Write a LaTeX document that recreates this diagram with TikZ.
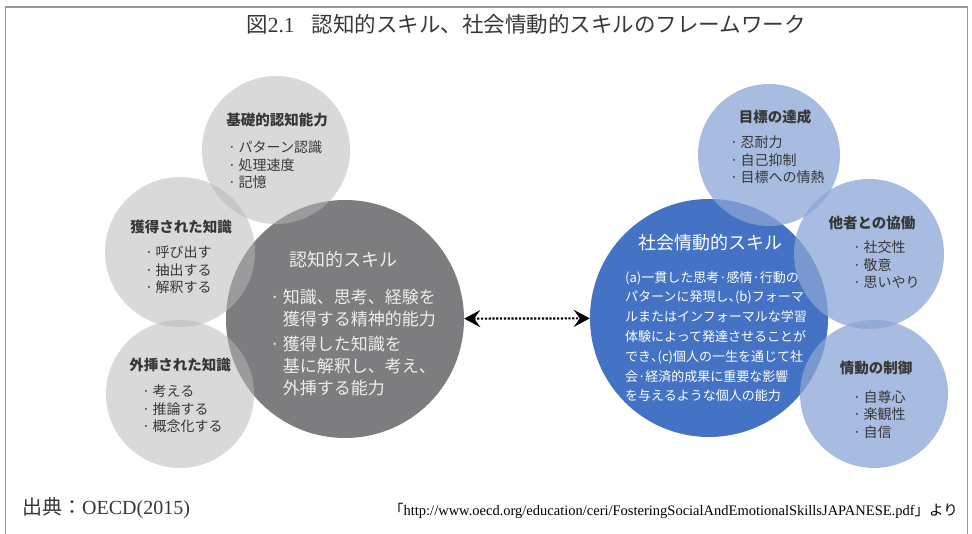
\documentclass[tikz,border=0pt]{standalone}
\usepackage{fontspec}
\setmainfont{Liberation Serif}
\newfontfamily\jp{Noto Sans CJK JP}
\usetikzlibrary{arrows.meta,positioning}
\usepackage{xcolor}

\definecolor{cogdark}{RGB}{125,125,128}
\definecolor{coglight}{RGB}{183,183,185}
\definecolor{emoblue}{RGB}{68,114,196}
\definecolor{emolight}{RGB}{139,164,213}
\definecolor{framegray}{RGB}{150,150,150}
\definecolor{textdark}{RGB}{55,55,55}

\newcommand{\dotitem}{\makebox[0.75em][l]{·}}
\newcommand{\halfcomma}{\makebox[0.5em][l]{、}}

\begin{document}
\begin{tikzpicture}[x=1pt, y=-1pt,
    cogbig/.style={circle, fill=cogdark, minimum size=238pt, inner sep=0pt},
    coglittle/.style={circle, fill=coglight, fill opacity=0.52, minimum size=#1, inner sep=0pt},
    emobig/.style={circle, fill=emoblue, minimum size=238pt, inner sep=0pt},
    emolittle/.style={circle, fill=emolight, fill opacity=0.75, minimum size=#1, inner sep=0pt},
    heading/.style={font=\jp\bfseries\fontsize{14.5}{18}\selectfont, text=textdark, inner sep=0pt},
    items/.style={font=\jp\fontsize{14}{17.5}\selectfont, text=textdark, align=left, anchor=north west, inner sep=0pt},
    bighead/.style={font=\jp\fontsize{18}{22}\selectfont, inner sep=0pt},
    arrowline/.style={{Stealth[length=16pt,width=17pt,inset=6pt]}-{Stealth[length=16pt,width=17pt,inset=6pt]}, line width=2.2pt, dash pattern=on 2.2pt off 1.6pt}]
    \useasboundingbox (0,0) rectangle (972,534);

    % Frame and title
    \draw[framegray, line width=1.3pt] (5.5,534) |- (967.5,7) -- (967.5,534);
    \node[text=textdark, font=\fontsize{21.5}{24}\selectfont, inner sep=0pt] (title) at (526,24)
        {{\jp 図}2.1\hspace{0.8em}{\jp 認知的スキル、社会情動的スキルのフレームワーク}};

    % Cognitive skills
    \node[cogbig] (cog) at (345,319) {};
    \node[coglittle=148pt] (basic) at (276,150) {};
    \node[coglittle=150pt] (acquired) at (180,252) {};
    \node[coglittle=148pt] (extrap) at (180,394) {};

    \node[heading] (basichead) at (277,120) {基礎的認知能力};
    \node[items] (basicitems) at (228,141) {\dotitem パターン認識\\ \dotitem 処理速度\\ \dotitem 記憶};
    \node[heading] (acquiredhead) at (181,227) {獲得された知識};
    \node[items] (acquireditems) at (145,246) {\dotitem 呼び出す\\ \dotitem 抽出する\\ \dotitem 解釈する};
    \node[heading] (extraphead) at (180,365) {外挿された知識};
    \node[items] (extrapitems) at (142,385) {\dotitem 考える\\ \dotitem 推論する\\ \dotitem 概念化する};

    \node[bighead, text=white!93!black] (coghead) at (343,260) {認知的スキル};
    \node[font=\jp\fontsize{17}{22}\selectfont, text=white!93!black, align=left, anchor=north west, inner sep=0pt] (cogbody) at (270,289)
        {\dotitem 知識、思考、経験を\\ \hspace*{0.75em}獲得する精神的能力\\[3pt]
         \dotitem 獲得した知識を\\ \hspace*{0.75em}基に解釈し、考え、\\ \hspace*{0.75em}外挿する能力};

    % Social and emotional skills
    \node[emobig] (emo) at (709,318) {};
    \node[emolittle=142pt] (goal) at (769,155) {};
    \node[emolittle=150pt] (others) at (869,254) {};
    \node[emolittle=148pt] (emotion) at (874,394) {};

    \node[heading] (goalhead) at (775,117) {目標の達成};
    \node[items] (goalitems) at (730,136) {\dotitem 忍耐力\\ \dotitem 自己抑制\\ \dotitem 目標への情熱};
    \node[heading] (othershead) at (872,223) {他者との協働};
    \node[items] (othersitems) at (853,241) {\dotitem 社交性\\ \dotitem 敬意\\ \dotitem 思いやり};
    \node[heading] (emotionhead) at (876,368) {情動の制御};
    \node[items] (emotionitems) at (853,390) {\dotitem 自尊心\\ \dotitem 楽観性\\ \dotitem 自信};

    \node[bighead, text=white] (emohead) at (710,243) {社会情動的スキル};
    \node[font=\jp\fontsize{13}{19.8}\selectfont, text=white, align=left, anchor=north west, inner sep=0pt] (emobody) at (625,271)
        {(a)一貫した思考·感情·行動の\\ パターンに発現し\halfcomma(b)フォーマ\\ ルまたはインフォーマルな学習\\
         体験によって発達させることが\\ でき\halfcomma(c)個人の一生を通じて社\\ 会·経済的成果に重要な影響\\ を与えるような個人の能力};

    % Link between the two
    \draw[arrowline] (cog) -- (emo);

    % Source
    \node[anchor=west, text=textdark, font=\fontsize{20}{22}\selectfont, inner sep=0pt] (source) at (22,508)
        {{\jp 出典：}OECD(2015)};
    \node[anchor=east, text=black, font=\fontsize{14.5}{16}\selectfont, inner sep=0pt] (url) at (958,511)
        {{\jp 「}http://www.oecd.org/education/ceri/FosteringSocialAndEmotionalSkillsJAPANESE.pdf{\jp 」より}};
\end{tikzpicture}
\end{document}
